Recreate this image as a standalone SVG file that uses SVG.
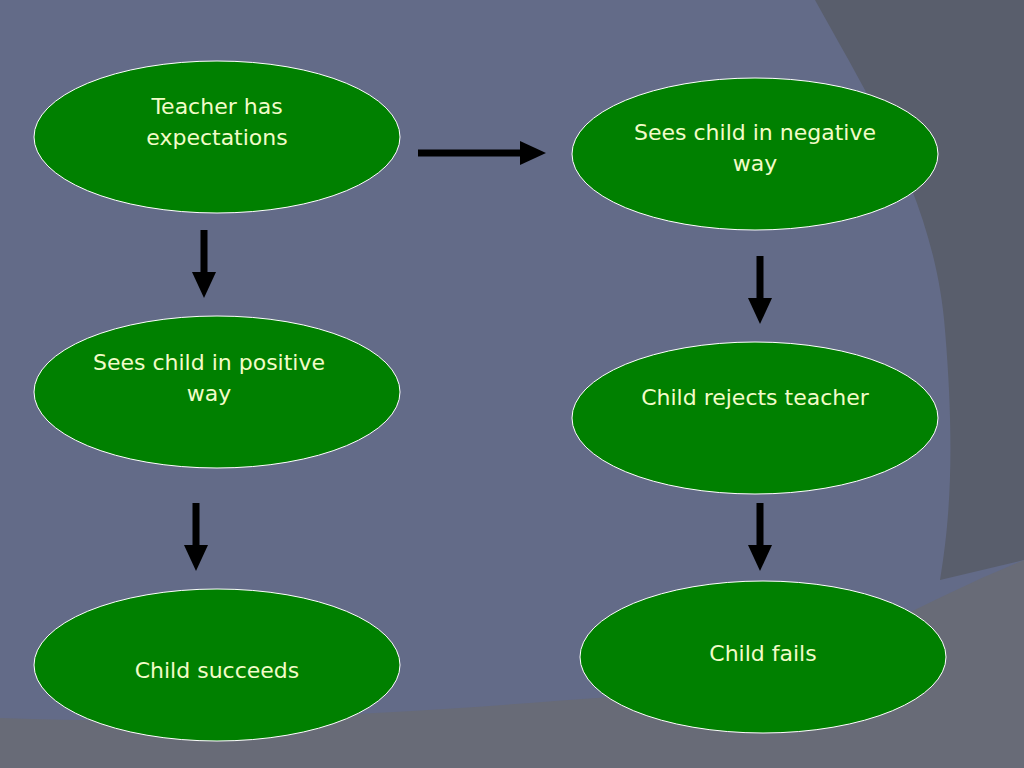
<svg xmlns="http://www.w3.org/2000/svg" width="1024" height="768" viewBox="0 0 1024 768">
<style>
.n{fill:#008000;stroke:#ffffff;stroke-width:1}
.t{font-family:"DejaVu Sans",Verdana,sans-serif;font-size:22px;fill:#f2fcc8;text-anchor:middle}
.a{stroke:#000;stroke-width:7;fill:none}
.h{fill:#000}
</style>
<rect width="1024" height="768" fill="#636b88"/>
<path d="M815 0 C870 100 935 200 945 330 C955 450 950 520 940 580 L1024 560 L1024 0 Z" fill="#595e6c"/>
<path d="M0 718 C250 728 500 705 700 690 C820 670 900 610 1024 560 L1024 768 L0 768 Z" fill="#686b77"/>
<g id="n1"><ellipse class="n" cx="217" cy="137" rx="183" ry="76"/><text class="t" x="217" y="114">Teacher has</text><text class="t" x="217" y="145">expectations</text></g>
<g id="n2"><ellipse class="n" cx="755" cy="154" rx="183" ry="76"/><text class="t" x="755" y="140">Sees child in negative</text><text class="t" x="755" y="171">way</text></g>
<g id="n3"><ellipse class="n" cx="217" cy="392" rx="183" ry="76"/><text class="t" x="209" y="370">Sees child in positive</text><text class="t" x="209" y="401">way</text></g>
<g id="n4"><ellipse class="n" cx="755" cy="418" rx="183" ry="76"/><text class="t" x="755" y="405">Child rejects teacher</text></g>
<g id="n5"><ellipse class="n" cx="217" cy="665" rx="183" ry="76"/><text class="t" x="217" y="678">Child succeeds</text></g>
<g id="n6"><ellipse class="n" cx="763" cy="657" rx="183" ry="76"/><text class="t" x="763" y="661">Child fails</text></g>
<g id="connectors">
<line class="a" x1="418" y1="153" x2="522" y2="153"/><polygon class="h" points="520,141 546,153 520,165"/>
<line class="a" x1="204" y1="230" x2="204" y2="274"/><polygon class="h" points="192,272 216,272 204,298"/>
<line class="a" x1="760" y1="256" x2="760" y2="300"/><polygon class="h" points="748,298 772,298 760,324"/>
<line class="a" x1="196" y1="503" x2="196" y2="547"/><polygon class="h" points="184,545 208,545 196,571"/>
<line class="a" x1="760" y1="503" x2="760" y2="547"/><polygon class="h" points="748,545 772,545 760,571"/>
</g>
</svg>
